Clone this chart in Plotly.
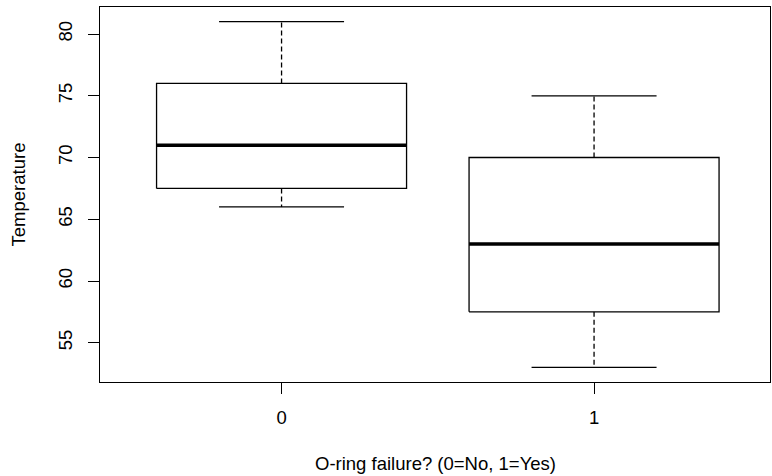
import plotly.graph_objects as go

# ---- data ----
groups = ["0", "1"]
lower_whisker = [66, 53]
q1 = [67.5, 57.5]
median = [71, 63]
q3 = [76, 70]
upper_whisker = [81, 75]
y_ticks = [55, 60, 65, 70, 75, 80]
x_title = "O-ring failure? (0=No, 1=Yes)"
y_title = "Temperature"

positions = list(range(1, len(groups) + 1))
half_box = 0.4
half_staple = 0.2
FONT = "Liberation Sans, Arial, sans-serif"
FS = 18.5
LW = 1.3

fig = go.Figure()
for i, p in enumerate(positions):
    # dashed whiskers
    fig.add_trace(go.Scatter(
        x=[p, p, None, p, p],
        y=[q3[i], upper_whisker[i], None, q1[i], lower_whisker[i]],
        mode="lines", line=dict(color="black", width=LW, dash="5px,3px"),
        hoverinfo="skip", showlegend=False))
    # staples
    fig.add_trace(go.Scatter(
        x=[p - half_staple, p + half_staple, None, p - half_staple, p + half_staple],
        y=[upper_whisker[i], upper_whisker[i], None, lower_whisker[i], lower_whisker[i]],
        mode="lines", line=dict(color="black", width=LW),
        hoverinfo="skip", showlegend=False))
    # box
    fig.add_trace(go.Scatter(
        x=[p - half_box, p + half_box, p + half_box, p - half_box, p - half_box],
        y=[q1[i], q1[i], q3[i], q3[i], q1[i]],
        mode="lines", line=dict(color="black", width=LW),
        fill="toself", fillcolor="white",
        hoverinfo="skip", showlegend=False))
    # median
    fig.add_trace(go.Scatter(
        x=[p - half_box, p + half_box],
        y=[median[i], median[i]],
        mode="lines", line=dict(color="black", width=3.5),
        hoverinfo="skip", showlegend=False))

fig.update_layout(
    width=772, height=476,
    margin=dict(l=100, r=2, t=7, b=94, autoexpand=False),
    paper_bgcolor="white", plot_bgcolor="white",
    font=dict(family=FONT, size=FS, color="black"),
    showlegend=False,
    annotations=[
        dict(text=x_title, xref="paper", yref="paper", x=0.5, y=-0.216,
             xanchor="center", yanchor="middle", showarrow=False,
             font=dict(size=FS)),
        dict(text=y_title, xref="paper", yref="paper", x=-0.121, y=0.5,
             xanchor="center", yanchor="middle", textangle=-90, showarrow=False,
             font=dict(size=FS)),
    ],
)
fig.update_xaxes(
    range=[0.419, 2.563], automargin=False,
    tickmode="array", tickvals=positions, ticktext=groups,
    ticks="outside", ticklen=11, tickwidth=LW, tickcolor="black",
    ticklabelstandoff=8,
    showline=True, mirror=True, linecolor="black", linewidth=LW,
    showgrid=False, zeroline=False,
    tickfont=dict(size=FS),
)
fig.update_yaxes(
    range=[51.82, 82.19], automargin=False,
    tickmode="array", tickvals=y_ticks, ticktext=[str(v) for v in y_ticks],
    tickangle=-90,
    ticks="outside", ticklen=11, tickwidth=LW, tickcolor="black",
    ticklabelstandoff=8,
    showline=True, mirror=True, linecolor="black", linewidth=LW,
    showgrid=False, zeroline=False,
    tickfont=dict(size=FS),
)

fig.write_html(
    "out.html",
    config={"displayModeBar": False},
    post_script="document.body.style.margin='0';document.body.style.overflow='hidden';",
)
